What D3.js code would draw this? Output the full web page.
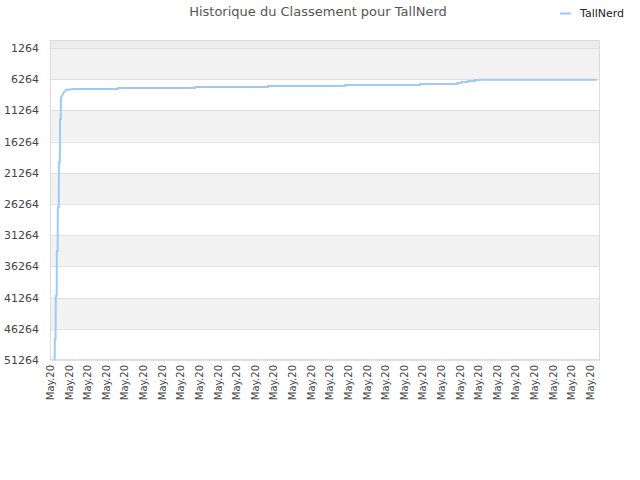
<!DOCTYPE html>
<html><head><meta charset="utf-8">
<script src="https://cdn.jsdelivr.net/npm/d3@7"></script>
<style>body{margin:0;background:#fff;font-family:"DejaVu Sans",sans-serif}</style>
</head><body><svg id="c" width="640" height="480"></svg>
<script>
const title = "Historique du Classement pour TallNerd";
const seriesName = "TallNerd";
const xTickLabels = Array.from({length:30}, () => "May.20");
const yTicks = [1264, 6264, 11264, 16264, 21264, 26264, 31264, 36264, 41264, 46264, 51264];
// x in tick-index units, y = rank
const xs = [0.25,0.26,0.30,0.31,0.36,0.37,0.41,0.42,0.47,0.48,0.53,0.54,0.58,0.59,0.64,0.70,0.75,0.81,0.86,1.24,3.65,3.66,7.79,7.80,11.71,11.72,15.84,15.85,19.87,19.88,21.86,21.87,22.08,22.09,22.45,22.46,22.83,22.84,23.09,23.10,29.38];
const ranks = [51264,47900,47900,41010,41010,33800,33800,26750,26750,19540,19540,12650,12650,9130,8970,8650,8330,8170,8010,7850,7850,7690,7690,7530,7530,7370,7370,7210,7210,7050,7050,6890,6890,6730,6730,6570,6570,6410,6410,6360,6360];

const svg = d3.select("#c");
const L=50,R=600,T=40,B=360;
const x = d3.scaleLinear().domain([0,29.54]).range([L,R]);
const y = d3.scaleLinear().domain([0,51264]).range([T,B]);

// bands
const bands = [[0,1264,"#ececec"]];
for(let i=0;i<yTicks.length-1;i++){ if(i%2===0) bands.push([yTicks[i],yTicks[i+1],"#f2f2f2"]); }
svg.selectAll("rect.band").data(bands).enter().append("rect")
  .attr("x",L).attr("width",R-L).attr("y",d=>y(d[0])).attr("height",d=>y(d[1])-y(d[0])).attr("fill",d=>d[2]);
// grid
svg.selectAll("line.g").data(yTicks).enter().append("line")
  .attr("x1",L).attr("x2",R).attr("y1",d=>Math.round(y(d))+0.5).attr("y2",d=>Math.round(y(d))+0.5)
  .attr("stroke","#e0e0e0");
// border
svg.append("rect").attr("x",L+0.5).attr("y",T+0.5).attr("width",R-L-1).attr("height",B-T-1)
  .attr("fill","none").attr("stroke","#dcdcdc");

// y labels
svg.selectAll("text.yl").data(yTicks).enter().append("text")
  .attr("x",39).attr("y",d=>y(d)+4).attr("text-anchor","end")
  .attr("font-size",11).attr("fill","#444").text(d=>d);
// x labels
svg.selectAll("text.xl").data(xTickLabels).enter().append("text")
  .attr("transform",(d,i)=>`translate(${x(i)+4},${365}) rotate(-90)`)
  .attr("text-anchor","end").attr("font-size",10).attr("fill","#444").text(d=>d);

// line
const pts = xs.map((v,i)=>[v,ranks[i]]);
svg.append("path").datum(pts)
  .attr("d", d3.line().x(d=>x(d[0])).y(d=>y(d[1])))
  .attr("fill","none").attr("stroke","#9ecbf5").attr("stroke-width",2);

// title
svg.append("text").attr("x",318).attr("y",16).attr("text-anchor","middle")
  .attr("font-size",13).attr("fill","#555").text(title);
// legend
svg.append("line").attr("x1",560).attr("x2",571).attr("y1",13.5).attr("y2",13.5)
  .attr("stroke","#9ecbf5").attr("stroke-width",2);
svg.append("text").attr("x",580).attr("y",17).attr("font-size",11).attr("fill","#222").text(seriesName);
</script></body></html>
